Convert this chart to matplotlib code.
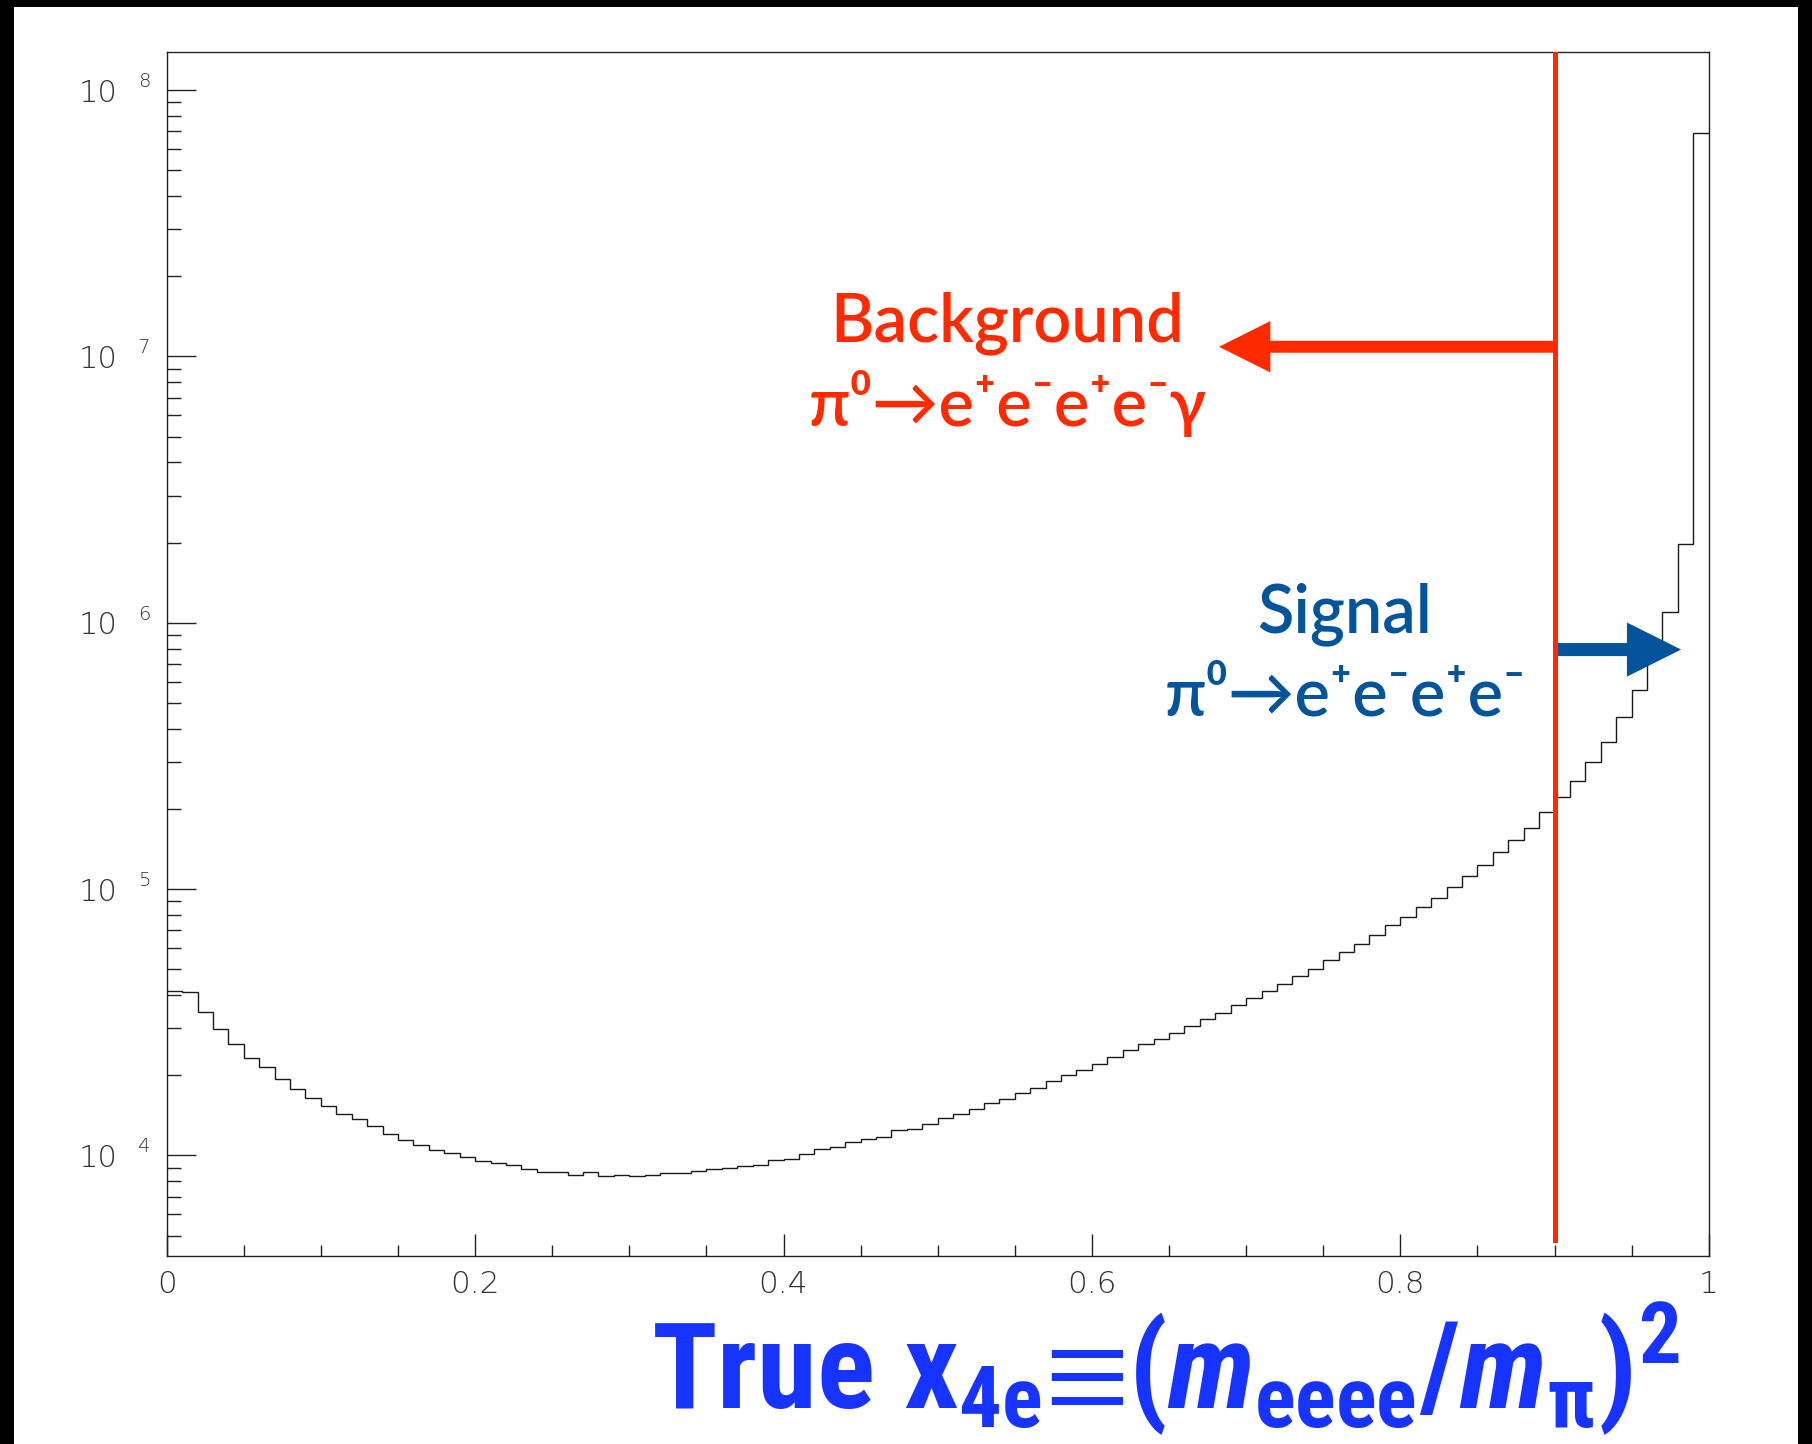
import os
import numpy as np
import matplotlib
matplotlib.use("Agg")
import matplotlib.pyplot as plt
from matplotlib import font_manager as fm
from matplotlib.patches import Rectangle
from matplotlib.ticker import MultipleLocator, LogLocator, NullFormatter
from matplotlib.transforms import ScaledTranslation

# true x_4e spectrum, 100 bins of width 0.01
edges = np.linspace(0.0, 1.0, 101)
counts = [
    41300, 40900, 34400, 29700, 26100, 23300, 21400, 19300, 17700, 16400,
    15300, 14300, 13700, 12850, 12050, 11380, 10930, 10440, 10170, 9830,
    9560, 9380, 9220, 8910, 8680, 8630, 8450, 8630, 8360, 8430,
    8360, 8430, 8580, 8580, 8750, 8910, 8980, 9120, 9200, 9600,
    9690, 10140, 10530, 10770, 11250, 11480, 11680, 12450, 12550, 13140,
    13840, 14300, 14890, 15680, 16230, 17140, 17890, 18960, 20030, 20910,
    21970, 23460, 24860, 26110, 27410, 28870, 30590, 32580, 34320, 36680,
    39070, 41510, 43990, 47250, 49940, 54000, 57840, 62300, 67340, 73070,
    78290, 85800, 92750, 102000, 111900, 123000, 137300, 152800, 169900, 194100,
    221000, 254500, 299100, 357400, 441400, 561300, 789700, 1097000, 1977000, 68800000,
]

x_cut = 0.9
x_ticks = [0, 0.2, 0.4, 0.6, 0.8, 1.0]
x_ticklabels = ["0", "0.2", "0.4", "0.6", "0.8", "1"]
y_decades = [4, 5, 6, 7, 8]

RED = "#ff2a00"
DARKBLUE = "#03549a"
BLUE = "#1733ff"
TICKGRAY = "#333333"
TICKFONT = dict(family=["DejaVu Sans"], fontweight=200, color=TICKGRAY)


def _weight(f):
    w = f.weight
    if isinstance(w, str):
        w = fm.weight_dict.get(w, 400)
    return w


def _is_narrow(f):
    base = os.path.basename(f.fname)
    return ("ondensed" in f.name or "Narrow" in f.name or "ondensed" in str(f.stretch)
            or "ondensed" in base or "Narrow" in base)


# bold condensed faces (upright and italic) for the axis title
found = [f for f in fm.fontManager.ttflist if _is_narrow(f) and _weight(f) >= 600]
pref = ["Liberation Sans Narrow", "Roboto Condensed", "Open Sans Condensed",
        "Noto Sans Condensed", "Noto Sans", "DejaVu Sans Condensed", "DejaVu Sans"]


def _pick(styles):
    cands = [f for f in found if f.style in styles]
    for p in pref:
        for f in cands:
            if f.name == p:
                return f
    return cands[0] if cands else None


up = _pick(("normal",))
it = _pick(("italic", "oblique")) or up
if up is not None:
    for f, st in ((up, "normal"), (it, "italic")):
        fm.fontManager.ttflist.append(fm.FontEntry(
            fname=f.fname, name="TitleCond", style=st, variant="normal",
            weight=700, stretch="normal", size="scalable"))
    tname = "TitleCond"
else:
    tname = "Liberation Sans"

plt.rcParams["mathtext.fontset"] = "custom"
plt.rcParams["mathtext.rm"] = f"{tname}:bold"
plt.rcParams["mathtext.it"] = f"{tname}:italic:bold"
plt.rcParams["mathtext.bf"] = f"{tname}:bold"

W, H = 1812, 1444
fig = plt.figure(figsize=(W / 100, H / 100), dpi=100, facecolor="black")
fig.add_artist(Rectangle((14 / W, 0), (1798 - 14) / W, (H - 7) / H,
                         transform=fig.transFigure, facecolor="white",
                         edgecolor="none", zorder=-1))


def fx(px):
    return px / W


def fy(py):
    return 1 - py / H


ax = fig.add_axes([fx(166.7), fy(1256), 1542 / W, 1204 / H])
ax.set_facecolor("white")

ax.stairs(counts, edges, baseline=None, color="#1a1a1a", lw=1.0, zorder=2)

ax.set_yscale("log")
ax.set_xlim(0, 1)
ax.set_ylim(4190, 1.39e8)

for s in ax.spines.values():
    s.set_linewidth(1.0)
    s.set_color("#222222")

ax.set_xticks(x_ticks)
ax.set_xticklabels(x_ticklabels, **TICKFONT)
ax.xaxis.set_minor_locator(MultipleLocator(0.05))
ax.tick_params(axis="x", which="major", direction="in", length=16, width=1.0,
               labelsize=22.5, pad=10, color="#222222")
ax.tick_params(axis="x", which="minor", direction="in", length=8, width=1.0,
               color="#222222")

ax.yaxis.set_major_locator(LogLocator(base=10, numticks=20))
ax.yaxis.set_minor_locator(LogLocator(base=10, subs=np.arange(2, 10), numticks=20))
ax.yaxis.set_major_formatter(NullFormatter())
ax.yaxis.set_minor_formatter(NullFormatter())
ax.tick_params(axis="y", which="major", direction="in", length=21, width=1.0,
               color="#222222")
ax.tick_params(axis="y", which="minor", direction="in", length=10, width=1.0,
               color="#222222")

# ROOT-style "10^n" labels on the y axis
ytrans = ax.get_yaxis_transform()
for d in y_decades:
    base_tr = ytrans + ScaledTranslation(-49 / 100, -11.5 / 100, fig.dpi_scale_trans)
    exp_tr = ytrans + ScaledTranslation(-29 / 100, 3 / 100, fig.dpi_scale_trans)
    ax.text(0, 10.0 ** d, "10", transform=base_tr, ha="right", va="baseline",
            fontsize=22, **TICKFONT)
    ax.text(0, 10.0 ** d, str(d), transform=exp_tr, ha="left", va="baseline",
            fontsize=14, **TICKFONT)

# cut line and region arrows
ax.axvline(x_cut, ymin=16 / 1204, ymax=1, color=RED, lw=3.6, zorder=3)

ax.annotate("", xy=(0.6824, 1.087e7), xytext=(x_cut, 1.087e7),
            arrowprops=dict(arrowstyle="simple,head_length=37,head_width=37,tail_width=8.6",
                            mutation_scale=1, color=RED, lw=0,
                            shrinkA=0, shrinkB=0), zorder=3)
ax.annotate("", xy=(0.9821, 7.93e5), xytext=(0.9023, 7.93e5),
            arrowprops=dict(arrowstyle="simple,head_length=39,head_width=39,tail_width=9.4",
                            mutation_scale=1, color=DARKBLUE, lw=0,
                            shrinkA=0, shrinkB=0), zorder=3)

lab_font = dict(family=["Lato", "DejaVu Sans"], fontweight="semibold", fontsize=48)
fig.text(fx(1007), fy(341), "Background", ha="center", va="baseline", color=RED, **lab_font)
fig.text(fx(1008), fy(426), "π⁰→e⁺e⁻e⁺e⁻γ", ha="center", va="baseline", color=RED, **lab_font)
fig.text(fx(1345), fy(632), "Signal", ha="center", va="baseline", color=DARKBLUE, **lab_font)
fig.text(fx(1345), fy(716), "π⁰→e⁺e⁻e⁺e⁻", ha="center", va="baseline", color=DARKBLUE, **lab_font)

fig.text(fx(1680), fy(1409),
         r"$\mathrm{True\ x}_{\mathrm{4e}}\mathrm{≡}(m_{\mathrm{eeee}}/m_{\mathrm{\pi}})^{2}$",
         ha="right", va="baseline", fontsize=87, color=BLUE)

fig.savefig("out.png", dpi=100, facecolor=fig.get_facecolor())
